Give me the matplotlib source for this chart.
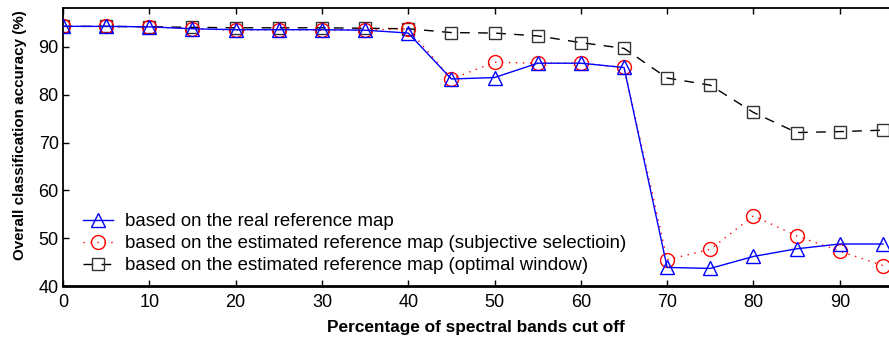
import matplotlib.pyplot as plt

plt.rcParams['font.family'] = ['Liberation Sans', 'DejaVu Sans']

cut_off = [0, 5, 10, 15, 20, 25, 30, 35, 40, 45, 50, 55, 60, 65, 70, 75, 80, 85, 90, 95]
real_ref = [94.3, 94.3, 94.2, 93.8, 93.6, 93.6, 93.6, 93.5, 92.9, 83.3,
            83.6, 86.6, 86.6, 85.7, 43.9, 43.7, 46.2, 47.8, 48.8, 48.8]
est_subjective = [94.3, 94.3, 94.2, 93.8, 93.5, 93.6, 93.5, 93.5, 93.8, 83.3,
                  86.8, 86.6, 86.6, 85.7, 45.5, 47.7, 54.7, 50.5, 47.3, 44.3]
est_optimal = [94.3, 94.3, 94.2, 94.1, 94.0, 94.0, 94.0, 93.9, 93.8, 93.0,
               92.9, 92.3, 90.9, 89.7, 83.5, 82.0, 76.3, 72.1, 72.3, 72.6]
labels = ["based on the real reference map",
          "based on the estimated reference map (subjective selectioin)",
          "based on the estimated reference map (optimal window)"]

fig = plt.figure(figsize=(8.89, 3.41), dpi=100)
ax = fig.add_axes([0.0709, 0.161, 0.9291, 0.815])

ax.plot(cut_off, real_ref, color='blue', lw=1.0, marker='^', ms=10,
        mfc='none', mec='blue', mew=1.0, label=labels[0], zorder=3)
ax.plot(cut_off, est_subjective, color='red', lw=1.0, ls=(0, (1, 4)), marker='o', ms=10,
        mfc='none', mec='red', mew=1.0, label=labels[1], zorder=2)
ax.plot(cut_off, est_optimal, color='black', lw=1.0, ls=(0, (7, 6)), marker='s', ms=8,
        mfc='none', mec='#333333', mew=1.0, label=labels[2], zorder=1)

ax.set_xlim(0, 95.7)
ax.set_ylim(40, 98.1)
ax.set_xticks(range(0, 100, 10))
ax.set_yticks(range(40, 100, 10))
ax.tick_params(direction='in', length=4.5, width=1, labelsize=13, top=True)
ax.tick_params(axis='x', pad=6)
ax.tick_params(axis='y', pad=3)
ax.spines['right'].set_visible(False)
ax.spines['bottom'].set_linewidth(2)
ax.spines['top'].set_linewidth(1.3)
ax.spines['left'].set_linewidth(1.3)

ax.set_xlabel("Percentage of spectral bands cut off", fontsize=12.4, fontweight='bold')
ax.xaxis.set_label_coords(0.5, -0.122)
ax.set_ylabel("Overall classification accuracy (%)", fontsize=10.9, fontweight='bold')
ax.yaxis.set_label_coords(-0.0436, 0.545)

ax.legend(loc='lower left', bbox_to_anchor=(0.0153, 0.0165), frameon=False, fontsize=13.4,
          handlelength=1.6, handletextpad=0.65, labelspacing=0.26, borderaxespad=0)

fig.savefig("out.png", dpi=100)
